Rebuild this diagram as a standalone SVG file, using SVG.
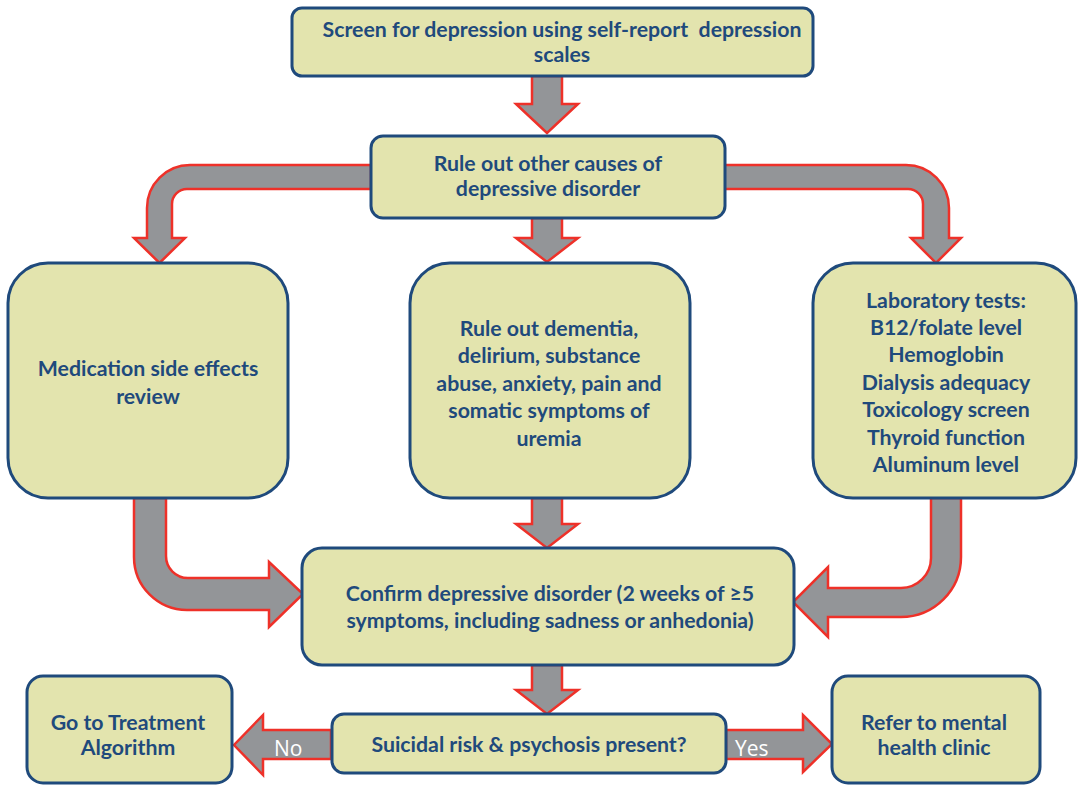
<svg xmlns="http://www.w3.org/2000/svg" width="1079" height="786" viewBox="0 0 1079 786">
<style>
.box{fill:#E3E4AE;stroke:#1F4A7C;stroke-width:3}
.arr{fill:#939598;stroke:#EE3129;stroke-width:2.5;stroke-linejoin:miter}
.t{font-family:Lato,"Liberation Sans",sans-serif;font-weight:bold;font-size:21.3px;fill:#1F4A7C;text-anchor:middle;white-space:pre}
.lab{font-family:"Open Sans","Liberation Sans",sans-serif;font-size:21px;fill:#FFFFFF}
</style>
<rect width="1079" height="786" fill="#FFFFFF"/>
<g id="connectors">
<path class="arr" d="M532,76 L562,76 L562,104 L578,104 L547,133 L516,104 L532,104 Z"/>
<path class="arr" d="M532,218 L562,218 L562,238 L578,238 L547,262 L516,238 L532,238 Z"/>
<path class="arr" d="M532,498 L562,498 L562,524 L578,524 L547,548 L516,524 L532,524 Z"/>
<path class="arr" d="M532,665 L562,665 L562,690 L578,690 L547,714 L516,690 L532,690 Z"/>
<path class="arr" d="M371,165 L190,165 A43,43 0 0 0 147,208 L147,238 L134,238 L159.5,263 L185,238 L172,238 L172,204 A15,15 0 0 1 187,189 L371,189 Z"/>
<path class="arr" d="M724,165 L906,165 A43,43 0 0 1 949,208 L949,238 L961,238 L936,263 L911,238 L923,238 L923,204 A15,15 0 0 0 908,189 L724,189 Z"/>
<path class="arr" d="M134,498 L166,498 L166,556 A22,22 0 0 0 188,578 L269,578 L269,562 L303,594 L269,627 L269,610 L187,610 A53,53 0 0 1 134,557 Z"/>
<path class="arr" d="M931,498 L961,498 L961,557 A60,60 0 0 1 901,617 L828,617 L828,637 L793,602 L828,567 L828,588 L901,588 A30,30 0 0 0 931,558 Z"/>
<path class="arr" d="M331,730 L263,730 L263,715 L234,745 L263,775 L263,759 L331,759 Z"/>
<path class="arr" d="M726,730 L803,730 L803,715 L832,744 L803,772 L803,759 L726,759 Z"/>
<text class="lab" x="274" y="756">No</text>
<text class="lab" x="735" y="756">Yes</text>
</g>
<g id="screen">
<rect class="box" x="292" y="8" width="521" height="68" rx="10"/>
<text class="t" x="562" y="37" xml:space="preserve">Screen for depression using self-report  depression</text>
<text class="t" x="562" y="62">scales</text>
</g>
<g id="ruleout">
<rect class="box" x="371" y="136" width="354" height="82" rx="12"/>
<text class="t" x="548" y="171">Rule out other causes of</text>
<text class="t" x="548" y="196">depressive disorder</text>
</g>
<g id="medication">
<rect class="box" x="8" y="263" width="280" height="235" rx="40"/>
<text class="t" x="148" y="376">Medication side effects</text>
<text class="t" x="148" y="404">review</text>
</g>
<g id="dementia">
<rect class="box" x="410" y="263" width="280" height="235" rx="40"/>
<text class="t" x="549" y="336">Rule out dementia,</text>
<text class="t" x="549" y="363">delirium, substance</text>
<text class="t" x="549" y="391">abuse, anxiety, pain and</text>
<text class="t" x="549" y="418">somatic symptoms of</text>
<text class="t" x="549" y="446">uremia</text>
</g>
<g id="labs">
<rect class="box" x="813" y="263" width="263" height="235" rx="40"/>
<text class="t" x="946" y="308">Laboratory tests:</text>
<text class="t" x="946" y="335">B12/folate level</text>
<text class="t" x="946" y="362">Hemoglobin</text>
<text class="t" x="946" y="390">Dialysis adequacy</text>
<text class="t" x="946" y="417">Toxicology screen</text>
<text class="t" x="946" y="445">Thyroid function</text>
<text class="t" x="946" y="472">Aluminum level</text>
</g>
<g id="confirm">
<rect class="box" x="302" y="548" width="492" height="117" rx="20"/>
<text class="t" x="550" y="601">Confirm depressive disorder (2 weeks of ≥5</text>
<text class="t" x="550" y="628">symptoms, including sadness or anhedonia)</text>
</g>
<g id="treatment">
<rect class="box" x="27" y="676" width="205" height="107" rx="16"/>
<text class="t" x="128" y="730">Go to Treatment</text>
<text class="t" x="128" y="755">Algorithm</text>
</g>
<g id="suicidal">
<rect class="box" x="332" y="714" width="394" height="59" rx="12"/>
<text class="t" x="529" y="752">Suicidal risk &amp; psychosis present?</text>
</g>
<g id="refer">
<rect class="box" x="832" y="676" width="208" height="107" rx="16"/>
<text class="t" x="934" y="730">Refer to mental</text>
<text class="t" x="934" y="755">health clinic</text>
</g>
</svg>
